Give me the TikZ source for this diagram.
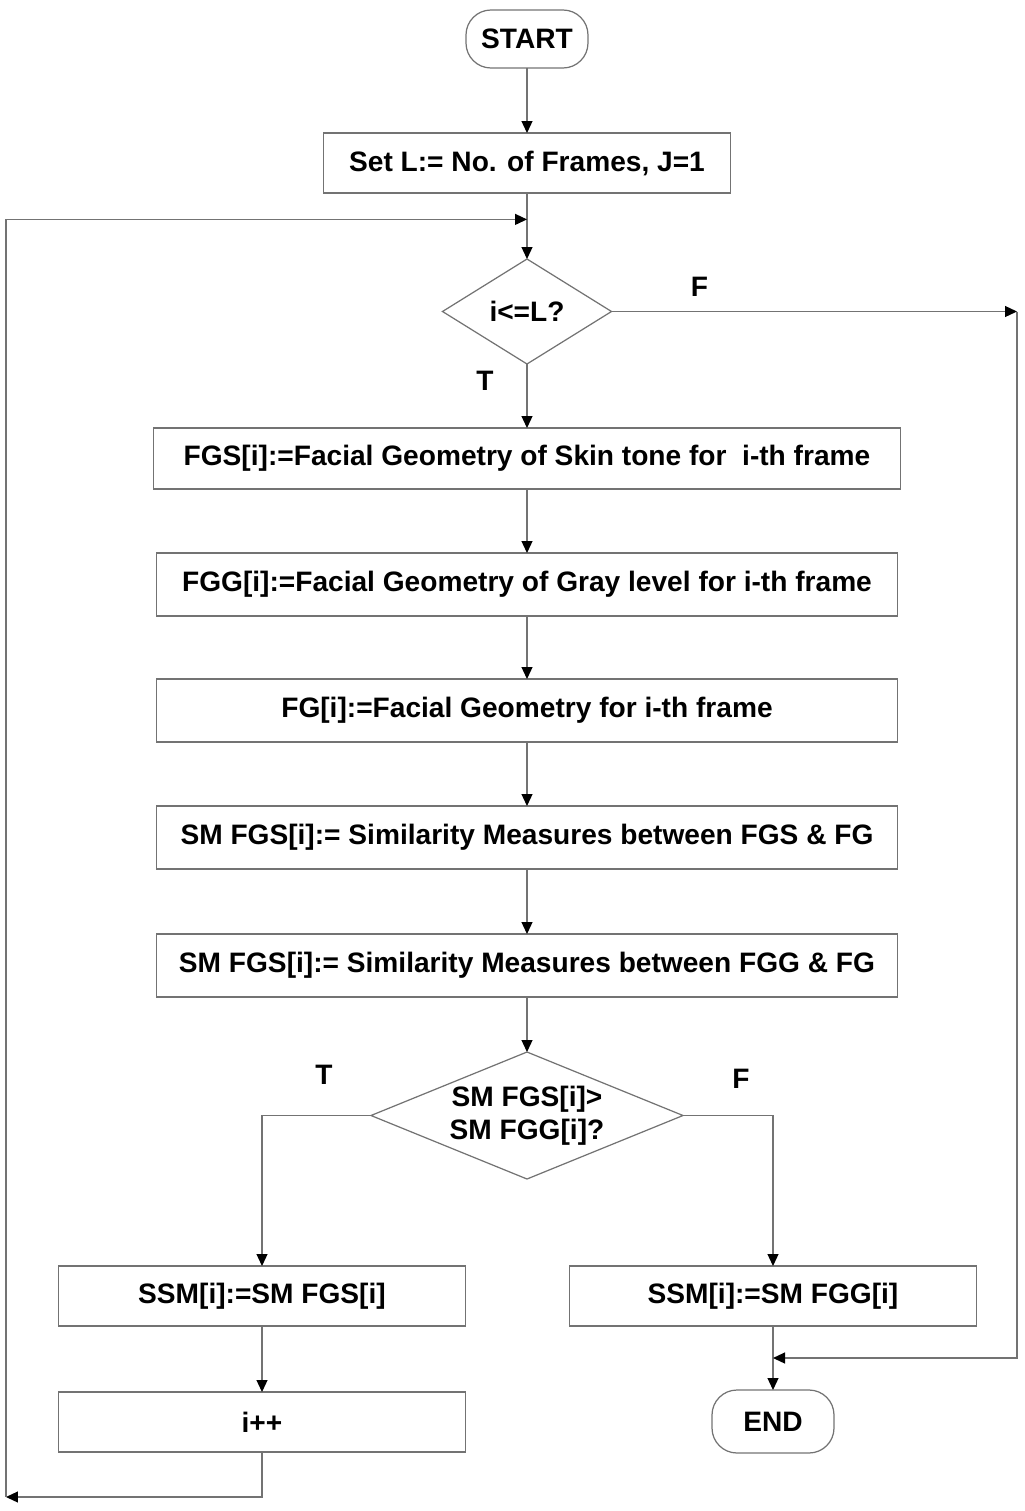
\documentclass[tikz,border=0pt]{standalone}
\usepackage{fontspec}
\setmainfont{Liberation Sans}
\usetikzlibrary{positioning,shapes.geometric,arrows.meta,calc}

\begin{document}
\begin{tikzpicture}[
	font=\fontsize{16pt}{19pt}\selectfont\bfseries,
	line/.style={draw=black!55, line width=0.7pt},
	arr/.style={line, -{Triangle[length=2.4mm,width=2.2mm,black]}},
	terminal/.style={line, rounded corners=0.5cm, minimum width=2.44cm, minimum height=1.16cm, inner sep=0pt, outer sep=0pt},
	process/.style={line, minimum width=14.82cm, minimum height=1.26cm, inner sep=0pt, outer sep=0pt},
	short/.style={process, minimum width=8.14cm, minimum height=1.2cm},
	decision/.style={line, diamond, aspect=2.4, inner sep=-10pt, outer sep=0pt, align=center},
	lbl/.style={inner sep=0pt},
	]
				\useasboundingbox (0,0) rectangle (20.48,-30.22);
				
				\node[terminal]                               (start) at (10.54,-0.78) {START};
				\node[short, below=1.3cm of start]                               (setl) {Set L:= No. of Frames, J=1};
				\node[decision, minimum width=3.38cm, minimum height=2.1cm, below=1.32cm of setl]                               (cond) {i<=L?};
				
				\node[process, minimum width=14.94cm, minimum height=1.22cm, below=1.28cm of cond]                               (fgs) {FGS[i]:=Facial Geometry of Skin tone for\ \ i-th frame};
				\node[process, below=1.28cm of fgs]                               (fgg) {FGG[i]:=Facial Geometry of Gray level for i-th frame};
				\node[process, below=1.26cm of fgg]                               (fg) {FG[i]:=Facial Geometry for i-th frame};
				\node[process, below=1.28cm of fg]                               (smfgs) {SM FGS[i]:= Similarity Measures between FGS \& FG};
				\node[process, below=1.3cm of smfgs]                               (smfgg) {SM FGS[i]:= Similarity Measures between FGG \& FG};
				
				\node[decision, minimum width=6.24cm, minimum height=2.54cm, below=1.1cm of smfgg]                               (cmp) {SM FGS[i]>\\SM FGG[i]?};
				
				\node[short, below=1.74cm of cmp, xshift=-5.3cm]                               (ssmfgs) {SSM[i]:=SM FGS[i]};
				\node[short, below=1.74cm of cmp, xshift=4.92cm]                               (ssmfgg) {SSM[i]:=SM FGG[i]};
				\node[short, below=1.32cm of ssmfgs]                               (inc) {i++};
				\node[terminal, minimum height=1.26cm, below=1.28cm of ssmfgg]                               (stop) {END};
				
				% loop ends
				\coordinate (rightx) at (20.34,0);
				\coordinate (loopin) at ($(setl.south)!0.4!(cond.north)$);
				\coordinate (loopbl) at (0.12,-29.94);
				\coordinate (exit) at (cond.east -| rightx);
				\coordinate (endin) at ($(ssmfgg.south)!0.5!(stop.north)$);
				
				\draw[arr] (start) -- (setl);
				\draw[arr] (setl) -- (cond);
				\draw[arr] (cond) -- (fgs);
				\draw[arr] (fgs) -- (fgg);
				\draw[arr] (fgg) -- (fg);
				\draw[arr] (fg) -- (smfgs);
				\draw[arr] (smfgs) -- (smfgg);
				\draw[arr] (smfgg) -- (cmp);
				
				\draw[arr] (cmp.west) -| (ssmfgs);
				\draw[arr] (cmp.east) -| (ssmfgg);
				\draw[arr] (ssmfgs) -- (inc);
				\draw[arr] (ssmfgg) -- (stop);
				
				\draw[arr] (inc.south) |- (loopbl); %
				\draw[arr] (loopbl) |- (loopin); %
				\draw[arr] (cond.east) -- (exit); %
				\draw[arr] (exit) |- (endin); %
				
				\node[lbl] (fcond) at ($(cond.east)+(1.76,0.5)$) {F};
				\node[lbl] (tcond) at ($(cond.south)+(-0.84,-0.34)$) {T};
				\node[lbl] (tcmp) at ($(cmp.west)+(-0.94,0.82)$) {T};
				\node[lbl] (fcmp) at ($(cmp.east)+(1.16,0.74)$) {F};
				
			\end{tikzpicture}
\end{document}
